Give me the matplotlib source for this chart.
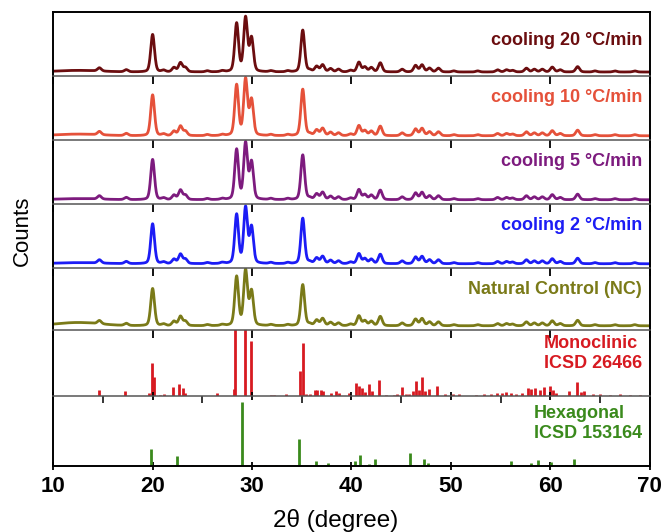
import numpy as np
import matplotlib.pyplot as plt
from matplotlib.ticker import MultipleLocator

plt.rcParams['font.family'] = ['Liberation Sans', 'DejaVu Sans']

# ── Data ──────────────────────────────────────────────────────────────────────
# measured patterns: peak list read off the picture (2θ, relative height)
peak_pos = [14.65, 17.35, 21.1, 22.15, 22.8, 23.3, 25.5, 27.0, 31.9, 33.6,
            35.8, 36.5, 37.1, 37.9, 38.7, 39.9, 40.75, 41.35, 42.0, 42.9,
            45.1, 46.45, 47.1, 47.85, 48.75, 50.3, 52.7, 54.7, 55.6, 56.2,
            57.6, 58.4, 59.2, 60.2, 61.0, 62.75, 64.5, 66.5, 68.5]
peak_int = [6, 4, 3, 8, 17, 8, 2, 2, 2, 2,
            3, 10, 13, 6, 5, 3, 18, 9, 8, 17,
            5, 12, 13, 7, 7, 2, 2, 4, 4, 3,
            7, 5, 5, 9, 4, 10, 2, 2, 2]

# strong reflections, intensity per sample
major_pos = [20.0, 28.45, 29.35, 29.95, 35.1]
samples = ['cooling 20 °C/min', 'cooling 10 °C/min', 'cooling 5 °C/min',
           'cooling 2 °C/min', 'Natural Control (NC)']
major_int = [
    [70, 90, 100, 62, 78],
    [73, 90, 100, 63, 83],
    [72, 89, 100, 66, 80],
    [72, 88, 100, 65, 82],
    [68, 89, 100, 62, 75],
]
hump_amp = [3, 3, 2, 2, 6]   # amorphous hump around 12°

# reference patterns (stick positions, heights)
mono_pos = [14.6, 17.2, 19.6, 19.93, 20.17, 20.7, 21.1, 22.0, 22.7, 23.05,
            23.3, 26.5, 28.15, 28.3, 29.25, 29.9, 31.9, 32.2, 33.4, 34.8,
            35.1, 35.45, 35.8, 36.3, 36.55, 36.95, 37.1, 37.96, 38.46, 38.7,
            39.8, 40.5, 40.8, 41.1, 41.35, 41.8, 42.1, 42.8, 43.5, 44.3,
            44.6, 45.1, 45.5, 45.8, 46.2, 46.5, 46.8, 47.1, 47.4, 47.8,
            48.65, 49.4, 50.2, 50.8, 52.5, 53.3, 54.0, 54.6, 55.1, 55.5,
            56.0, 56.6, 57.2, 57.8, 58.1, 58.5, 59.0, 59.4, 60.0, 60.3,
            60.6, 61.9, 62.7, 63.1, 63.4, 64.3, 65.0, 66.0, 67.0, 68.0, 69.0]
mono_int = [6, 5, 3, 33, 19, 1, 2, 9, 12, 8,
            3, 3, 7, 100, 100, 55, 1, 1, 2, 25,
            53, 2, 2, 6, 6, 6, 5, 3, 5, 3,
            3, 13, 10, 8, 4, 12, 5, 16, 1, 1,
            2, 9, 2, 2, 5, 15, 6, 19, 5, 7,
            10, 2, 2, 2, 1, 2, 2, 3, 3, 4,
            3, 2, 3, 8, 7, 8, 6, 9, 10, 6,
            3, 5, 14, 4, 5, 2, 2, 1, 2, 1, 1]

hex_pos = [15.5, 19.87, 20.9, 22.48, 23.1, 24.0, 25.5, 28.97, 30.6, 31.3,
           32.4, 33.6, 34.77, 36.4, 37.3, 37.6, 39.4, 40.35, 40.87, 41.8,
           42.4, 43.4, 44.2, 45.9, 47.34, 47.7, 52.2, 52.9, 53.5, 54.4,
           56.05, 58.06, 58.8, 60.07, 61.1, 61.6, 62.34, 63.6, 64.2, 65.6,
           66.6, 69.6]
hex_int = [1, 17, 1, 10, 1, 1, 1, 64, 1, 1,
           1, 1, 27, 5, 1, 3, 1, 5, 11, 2,
           7, 1, 1, 13, 7, 3, 1, 1, 1, 1,
           5, 3, 6, 4, 1, 1, 7, 1, 1, 1,
           1, 1]

sample_colors = ['#6b0d0f', '#e5513a', '#7d1b7e', '#1c1cf5', '#7a7a18']
mono_color = '#d71a21'
hex_color = '#3a8a1c'

# ── Build profiles ────────────────────────────────────────────────────────────
tt = np.linspace(10, 70, 4001)
fwhm, eta = 0.45, 0.3


def profile(pos, heights, hump):
    y = hump * np.exp(-0.5 * ((tt - 12.5) / 2.2) ** 2)
    for p, h in zip(pos, heights):
        g = np.exp(-4 * np.log(2) * ((tt - p) / fwhm) ** 2)
        l = 1 / (1 + (2 * (tt - p) / fwhm) ** 2)
        y += h * ((1 - eta) * g + eta * l)
    return y


# ── Figure ────────────────────────────────────────────────────────────────────
fig = plt.figure(figsize=(6.65, 5.32), dpi=100)
gs = fig.add_gridspec(7, 1, left=0.080, right=0.977, top=0.977, bottom=0.124,
                      hspace=0, height_ratios=[64, 64, 64, 64, 62, 66, 70])
axes = [fig.add_subplot(gs[i]) for i in range(7)]

top_lim = [1.07, 1.02, 1.02, 1.03, 1.01]
label_y = [0.56, 0.66, 0.66, 0.66, 0.65]

for i, ax in enumerate(axes[:5]):
    y = profile(peak_pos + major_pos, peak_int + major_int[i], hump_amp[i])
    ymax = y.max()
    ax.plot(tt, y, color=sample_colors[i], lw=2.0)
    ax.set_ylim(-0.075 * ymax, top_lim[i] * ymax)
    ax.text(0.987, label_y[i], samples[i], transform=ax.transAxes,
            ha='right', va='center', fontsize=13, fontweight='bold',
            color=sample_colors[i])

ax = axes[5]
ax.vlines(mono_pos, 0, mono_int, color=mono_color, lw=2.0)
ax.set_ylim(0, 66)
ax.text(0.987, 0.65, 'Monoclinic\nICSD 26466', transform=ax.transAxes,
        ha='right', va='center', multialignment='left', fontsize=13,
        fontweight='bold', color=mono_color, linespacing=1.25)

ax = axes[6]
ax.vlines(hex_pos, 0, hex_int, color=hex_color, lw=2.0)
ax.set_ylim(0, 70)
ax.text(0.987, 0.61, 'Hexagonal\nICSD 153164', transform=ax.transAxes,
        ha='right', va='center', multialignment='left', fontsize=13,
        fontweight='bold', color=hex_color, linespacing=1.25)

# ── Axes formatting ───────────────────────────────────────────────────────────
for i, ax in enumerate(axes):
    ax.set_xlim(10, 70)
    ax.set_yticks([])
    ax.xaxis.set_major_locator(MultipleLocator(10))
    for s in ['left', 'right']:
        ax.spines[s].set_linewidth(1.4)
        ax.spines[s].set_color('black')
    ax.spines['top'].set_color('black' if i == 0 else '#555555')
    ax.spines['top'].set_linewidth(1.4 if i == 0 else 1.1)
    ax.spines['bottom'].set_visible(i == 6)
    ax.spines['bottom'].set_linewidth(1.4)
    if i == 0:
        ax.tick_params(axis='x', which='both', bottom=False, top=False,
                       labelbottom=False)
    else:
        ax.tick_params(axis='x', which='major', bottom=False, top=True,
                       direction='in', length=6, width=1.3, labelbottom=False)
    if i == 6:
        ax.xaxis.set_minor_locator(MultipleLocator(5))
        ax.tick_params(axis='x', which='minor', bottom=False, top=True,
                       direction='in', length=5, width=1.1)
        ax.tick_params(axis='x', which='major', bottom=True, top=True,
                       labelbottom=True)
        ax.tick_params(axis='x', which='major', direction='inout', length=6)
        ax.tick_params(axis='x', labelsize=16, pad=4)
        for lab in ax.get_xticklabels():
            lab.set_fontweight('bold')

fig.text(0.034, 0.566, 'Counts', rotation=90, ha='center', va='center',
         fontsize=16)
fig.text(0.505, 0.022, '2θ (degree)', ha='center', va='center', fontsize=17.5)

plt.savefig('out.png', dpi=100)
